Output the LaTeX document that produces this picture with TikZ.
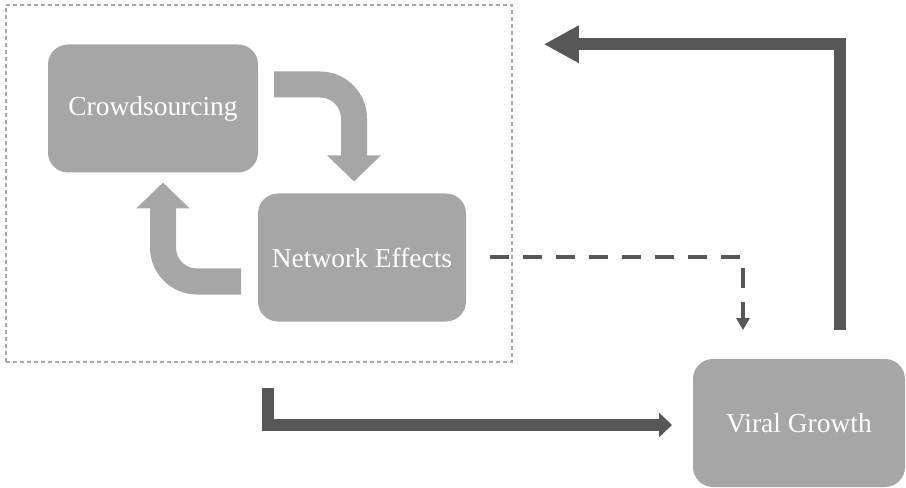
\documentclass[tikz,border=0pt]{standalone}
\usepackage{fontspec}
\setmainfont{Liberation Serif}
\usepackage{tikz}
\usetikzlibrary{arrows.meta,calc,positioning}
\newdimen\pxdim
\pxdim=0.75pt
\definecolor{boxgray}{HTML}{A6A6A6}
\definecolor{linegray}{HTML}{575757}
\definecolor{framegray}{HTML}{A8A8A8}
\tikzstyle{block}=[
  fill=boxgray,
  text=white,
  font={\fontsize{20.6}{24}\selectfont},
  inner sep=0pt,
  outer sep=0pt,
  minimum height=128\pxdim,
  minimum width=210\pxdim,
  rectangle,
  rounded corners=20\pxdim,
  text centered,
]
\tikzstyle{frame}=[
  draw=framegray,
  line width=1.5\pxdim,
  dash pattern=on 4\pxdim off 3\pxdim,
  inner sep=0pt,
  minimum height=357\pxdim,
  minimum width=506\pxdim,
]
% tip sizes are given in pt (1px = .75pt)
\tikzstyle{turnarrow}=[
  draw=boxgray,
  line width=26\pxdim,
  rounded corners=34\pxdim,
  -{Triangle[width=39pt,length=19.5pt]},
]
\tikzstyle{flow}=[
  draw=linegray,
  line width=12\pxdim,
]
\tikzstyle{link}=[
  draw=linegray,
  line width=4\pxdim,
  dash pattern=on 19\pxdim off 14\pxdim,
  -{Triangle[width=9.75pt,length=9pt]},
]
\tikzset{
  x=\pxdim,
  y=-\pxdim,
}
\begin{document}
\begin{tikzpicture}
      \useasboundingbox (0,0) rectangle (906,488);
      \node (frame) [frame] at (259,183.5) {};
      \node (crowd) [block] at (153,108.5) {Crowdsourcing};
      \node (network) [block, minimum width=208\pxdim, below right=21\pxdim and 0pt of crowd.south east] {Network Effects};
      \node (viral) [block, minimum width=212\pxdim] at (799,423) {Viral Growth};
      %%
      \draw [turnarrow] ($(crowd.east)+(16,-24)$) -| ($(network.north)+(-8,-12)$);
      \draw [turnarrow] ($(network.west)+(-17,24)$) -| ($(crowd.south)+(10,10)$);
      %%
      \draw [link] ($(network.east)+(24,0)$) -| ($(viral.north)+(-56,-29)$);
      \draw [flow, -{Triangle[width=18pt,length=9.75pt]}]
      ($(frame.south)+(9,25)$) |- ($(viral.west)+(-21,2)$);
      \draw [flow, -{Triangle[width=26.25pt,length=26.25pt]}]
      ($(viral.north)+(41,-29)$) |- ($(frame.north east)+(31,40)$);
    \end{tikzpicture}
\end{document}
